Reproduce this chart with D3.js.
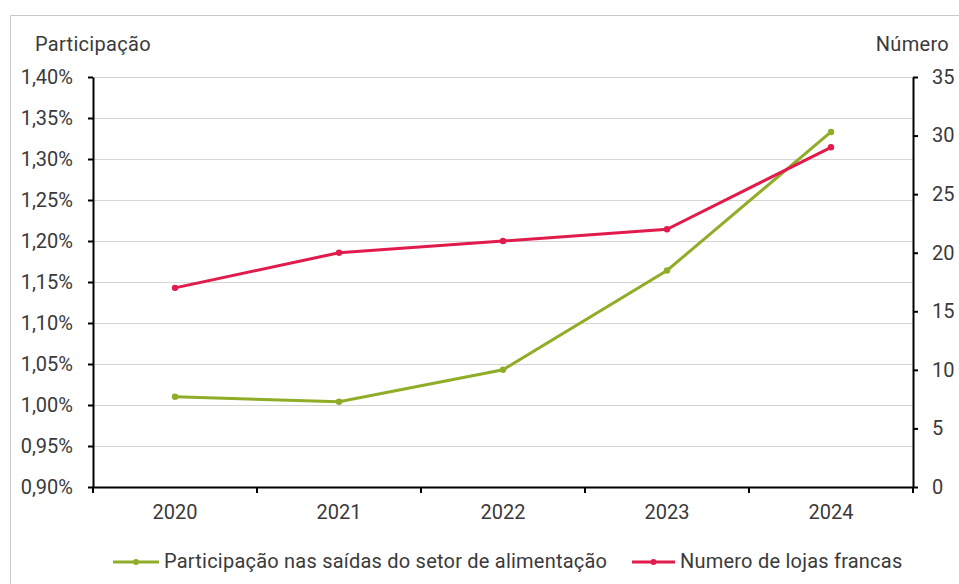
<!DOCTYPE html>
<html><head><meta charset="utf-8">
<script src="https://cdn.jsdelivr.net/npm/d3@7"></script>
<style>
html,body{margin:0;padding:0;background:#fff;}
svg{display:block;font-family:Roboto,"Noto Sans",sans-serif;}
</style></head>
<body>
<svg id="c" width="959" height="584"></svg>
<script>
const years = ["2020","2021","2022","2023","2024"];
const participacao = [1.010, 1.004, 1.043, 1.164, 1.333];
const lojas = [17, 20, 21, 22, 29];
const leftTicks = [0.90,0.95,1.00,1.05,1.10,1.15,1.20,1.25,1.30,1.35,1.40];
const rightTicks = [0,5,10,15,20,25,30,35];
const seriesNames = ["Participação nas saídas do setor de alimentação","Numero de lojas francas"];
const colors = ["#8fad27","#e11b4c"];

const svg = d3.select("#c");
const L=93, R=913, T=77, B=487;
const textColor="#3a3a3a";
const FS=20;

// frame
svg.append("path").attr("d",`M10.5,584 V15.5 H959`).attr("fill","none").attr("stroke","#c8c8c8").attr("stroke-width",1);

const x = d3.scaleBand().domain(years).range([L,R]).padding(0);
const yL = d3.scaleLinear().domain([0.90,1.40]).range([B,T]);
const yR = d3.scaleLinear().domain([0,35]).range([B,T]);

// gridlines
svg.append("g").selectAll("line").data(leftTicks).join("line")
  .attr("x1",L).attr("x2",R).attr("y1",d=>Math.round(yL(d))+0.5).attr("y2",d=>Math.round(yL(d))+0.5)
  .attr("stroke","#d4d4d4").attr("stroke-width",1);

const fmt = d => d.toFixed(2).replace(".",",")+"%";

// left axis
const gl = svg.append("g").attr("transform",`translate(${L},0)`)
  .call(d3.axisLeft(yL).tickValues(leftTicks).tickFormat(fmt).tickSize(5).tickPadding(15).tickSizeOuter(0));
// right axis
const gr = svg.append("g").attr("transform",`translate(${R},0)`)
  .call(d3.axisRight(yR).tickValues(rightTicks).tickSize(5).tickPadding(14).tickSizeOuter(0));
// bottom axis
const gb = svg.append("g").attr("transform",`translate(0,${B})`)
  .call(d3.axisBottom(x).tickSize(0).tickPadding(18).tickSizeOuter(0));
// category boundary ticks
const bounds = years.map(y=>x(y)).concat([R]);
svg.append("g").selectAll("line").data(bounds).join("line")
  .attr("x1",d=>d).attr("x2",d=>d).attr("y1",B).attr("y2",B+6)
  .attr("stroke","#000").attr("stroke-width",2);

[gl,gr,gb].forEach(g=>{
  g.selectAll(".domain").attr("stroke","#000").attr("stroke-width",2);
  g.selectAll(".tick line").attr("stroke","#000").attr("stroke-width",2);
  g.selectAll("text").attr("fill",textColor).attr("font-size",FS).attr("font-family","Roboto,sans-serif");
});

// axis titles
svg.append("text").attr("x",35).attr("y",51).attr("fill",textColor).attr("font-size",FS).attr("letter-spacing",0.3).text("Participação");
svg.append("text").attr("x",949).attr("y",51).attr("text-anchor","end").attr("fill",textColor).attr("font-size",FS).attr("letter-spacing",0.3).text("Número");

const cx = d => x(d)+x.bandwidth()/2;
// lines
const lineL = d3.line().x((d,i)=>cx(years[i])).y(d=>yL(d));
const lineR = d3.line().x((d,i)=>cx(years[i])).y(d=>yR(d));
svg.append("path").attr("d",lineL(participacao)).attr("fill","none").attr("stroke",colors[0]).attr("stroke-width",3);
svg.append("g").selectAll("circle").data(participacao).join("circle")
  .attr("cx",(d,i)=>cx(years[i])).attr("cy",d=>yL(d)).attr("r",3.2).attr("fill",colors[0]);
svg.append("path").attr("d",lineR(lojas)).attr("fill","none").attr("stroke",colors[1]).attr("stroke-width",3);
svg.append("g").selectAll("circle").data(lojas).join("circle")
  .attr("cx",(d,i)=>cx(years[i])).attr("cy",d=>yR(d)).attr("r",3.2).attr("fill",colors[1]);

// legend
const leg = [{x1:113,x2:159,tx:164},{x1:632,x2:675,tx:680}];
seriesNames.forEach((n,i)=>{
  const g = svg.append("g");
  g.append("line").attr("x1",leg[i].x1).attr("x2",leg[i].x2).attr("y1",562).attr("y2",562)
    .attr("stroke",colors[i]).attr("stroke-width",3);
  g.append("circle").attr("cx",(leg[i].x1+leg[i].x2)/2).attr("cy",562).attr("r",3).attr("fill",colors[i]);
  g.append("text").attr("x",leg[i].tx).attr("y",568).attr("fill",textColor).attr("font-size",FS).attr("letter-spacing",0.22).text(n);
});
</script>
</body></html>
